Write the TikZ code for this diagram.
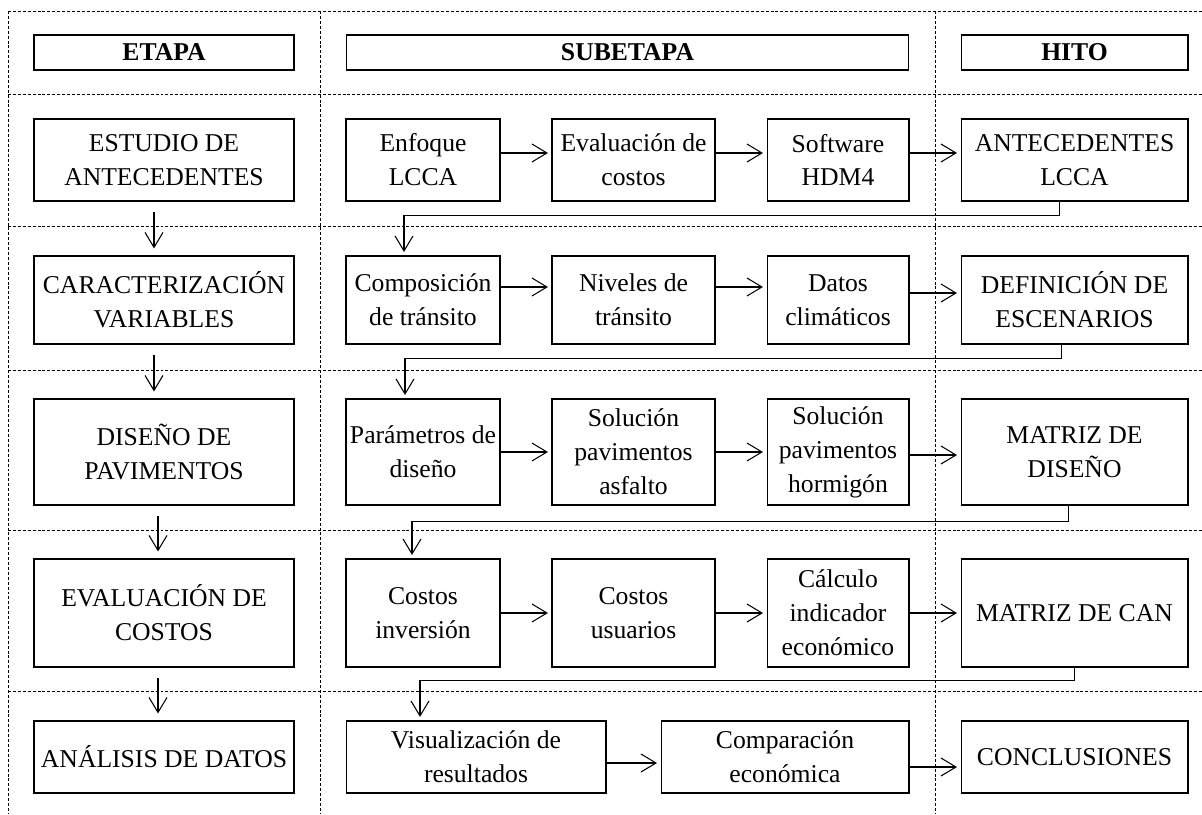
\documentclass[tikz,border=0pt]{standalone}
\usepackage{fontspec}
\setmainfont{Liberation Serif}
\usetikzlibrary{arrows.meta,calc}

\begin{document}
\begin{tikzpicture}[x=0.02cm,y=-0.02cm,
  font=\fontsize{14.6}{19.3}\selectfont,
  box/.style={draw,semithick,align=center,inner sep=0pt},
  hdr/.style={box,font=\fontsize{14.6}{19.3}\selectfont\bfseries},
  arr/.style={semithick,-{Straight Barb[length=0.3cm,width=0.36cm]},shorten >=2pt},
  down/.style={arr,shorten <=6pt,shorten >=4pt},
  grid/.style={line width=0.5pt,dash pattern=on 1.7pt off 1.1pt}]
\useasboundingbox (0,0) rectangle (1202,814);
% dotted frame
\foreach \y in {11,94,226,370,530,691} \draw[grid] (8,\y) -- (1202,\y);
\foreach \x in {8,320,935} \draw[grid] (\x,11) -- (\x,814);
% headers
\node[hdr,minimum width=5.2cm,minimum height=0.7cm] (t1) at (164,52.5) {ETAPA};
\node[hdr,minimum width=11.26cm,minimum height=0.7cm] (t2) at (627.5,52.5) {SUBETAPA};
\node[hdr,minimum width=4.54cm,minimum height=0.7cm] (t3) at (1074.5,52.5) {HITO};
% row 1
\node[box,minimum width=5.2cm,minimum height=1.64cm] (e1) at (164,160) {ESTUDIO DE\\ANTECEDENTES};
\node[box,minimum width=3.08cm,minimum height=1.64cm] (s11) at (423,160) {Enfoque\\LCCA};
\node[box,minimum width=3.26cm,minimum height=1.64cm] (s12) at (633.5,160) {Evaluación de\\costos};
\node[box,minimum width=2.84cm,minimum height=1.64cm] (s13) at (838,160) {Software\\HDM4};
\node[box,minimum width=4.54cm,minimum height=1.64cm] (h1) at (1074.5,160) {ANTECEDENTES\\LCCA};
% row 2
\node[box,minimum width=5.2cm,minimum height=1.76cm] (e2) at (164,300) {CARACTERIZACIÓN\\VARIABLES};
\node[box,minimum width=3.08cm,minimum height=1.76cm] (s21) at (423,300) {Composición\\de tránsito};
\node[box,minimum width=3.26cm,minimum height=1.76cm] (s22) at (633.5,300) {Niveles de\\tránsito};
\node[box,minimum width=2.84cm,minimum height=1.76cm] (s23) at (838,300) {Datos\\climáticos};
\node[box,minimum width=4.54cm,minimum height=1.76cm] (h2) at (1074.5,300) {DEFINICIÓN DE\\ESCENARIOS};
% row 3
\node[box,minimum width=5.2cm,minimum height=2.12cm] (e3) at (164,452) {DISEÑO DE\\PAVIMENTOS};
\node[box,minimum width=3.08cm,minimum height=2.12cm] (s31) at (423,452) {Parámetros de\\diseño};
\node[box,minimum width=3.26cm,minimum height=2.12cm] (s32) at (633.5,452) {Solución\\pavimentos\\asfalto};
\node[box,minimum width=2.84cm,minimum height=2.12cm] (s33) at (838,452) {Solución\\pavimentos\\hormigón};
\node[box,minimum width=4.54cm,minimum height=2.12cm] (h3) at (1074.5,452) {MATRIZ DE\\DISEÑO};
% row 4
\node[box,minimum width=5.2cm,minimum height=2.16cm] (e4) at (164,613) {EVALUACIÓN DE\\COSTOS};
\node[box,minimum width=3.08cm,minimum height=2.16cm] (s41) at (423,613) {Costos\\inversión};
\node[box,minimum width=3.26cm,minimum height=2.16cm] (s42) at (633.5,613) {Costos\\usuarios};
\node[box,minimum width=2.84cm,minimum height=2.16cm] (s43) at (838,613) {Cálculo\\indicador\\económico};
\node[box,minimum width=4.54cm,minimum height=2.16cm] (h4) at (1074.5,613) {MATRIZ DE CAN};
% row 5
\node[box,minimum width=5.2cm,minimum height=1.44cm] (e5) at (164,757) {ANÁLISIS DE DATOS};
\node[box,minimum width=5.2cm,minimum height=1.44cm] (s51) at (476,757) {Visualización de\\resultados};
\node[box,minimum width=4.96cm,minimum height=1.44cm] (s52) at (785,757) {Comparación\\económica};
\node[box,minimum width=4.54cm,minimum height=1.44cm] (h5) at (1074.5,757) {CONCLUSIONES};
% etapa arrows
\draw[down] ($(e1.south)+(-10,0)$) -- ($(e2.north)+(-10,0)$);
\draw[down] ($(e2.south)+(-10,0)$) -- ($(e3.north)+(-10,0)$);
\draw[down] ($(e3.south)+(-6,0)$) -- ($(e4.north)+(-6,0)$);
\draw[down] ($(e4.south)+(-6,0)$) -- ($(e5.north)+(-6,0)$);
% subetapa arrows
\draw[arr] ($(s11.east)+(0,-7)$) -- ($(s12.west)+(0,-7)$);
\draw[arr] ($(s12.east)+(0,-7)$) -- ($(s13.west)+(0,-7)$);
\draw[arr] ($(s13.east)+(0,-7)$) -- ($(h1.west)+(0,-7)$);
\draw[arr] ($(s21.east)+(0,-13)$) -- ($(s22.west)+(0,-13)$);
\draw[arr] ($(s22.east)+(0,-13)$) -- ($(s23.west)+(0,-13)$);
\draw[arr] ($(s23.east)+(0,-7)$) -- ($(h2.west)+(0,-7)$);
\draw[arr] (s31) -- (s32);
\draw[arr] (s32) -- (s33);
\draw[arr] ($(s33.east)+(0,3)$) -- ($(h3.west)+(0,3)$);
\draw[arr] (s41) -- (s42);
\draw[arr] (s42) -- (s43);
\draw[arr] (s43) -- (h4);
\draw[arr] ($(s51.east)+(0,6)$) -- ($(s52.west)+(0,6)$);
\draw[arr] ($(s52.east)+(0,10)$) -- ($(h5.west)+(0,10)$);
% hito to next row
\draw[arr] ($(h1.south)+(-15,0)$) -- ++(0,14) -| ($(s21.north)+(-19,0)$);
\draw[arr] ($(h2.south)+(-13,0)$) -- ++(0,14) -| ($(s31.north)+(-18,0)$);
\draw[arr] ($(h3.south)+(-6,0)$) -- ++(0,16) -| ($(s41.north)+(-11,0)$);
\draw[arr] ($(h4.south)+(0,0)$) -- ++(0,13) -| ($(s51.north)+(-56,0)$);
\end{tikzpicture}
\end{document}
